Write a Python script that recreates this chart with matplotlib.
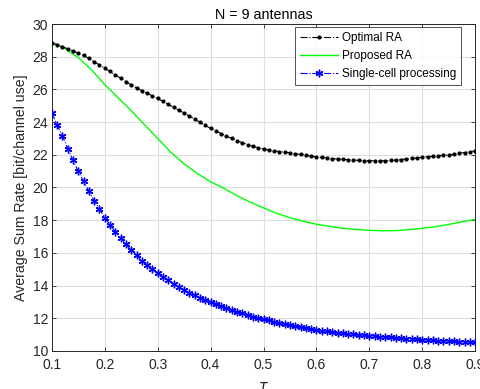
import numpy as np
import matplotlib
matplotlib.use("Agg")
import matplotlib.pyplot as plt

plt.rcParams['font.family'] = ['Liberation Sans', 'DejaVu Sans']

# tau grid for the marker series (step 0.01)
tau = np.round(np.arange(0.10, 0.9001, 0.01), 2)

optimal_ra = [
    28.85, 28.75, 28.62, 28.49, 28.36, 28.22, 28.08, 27.90, 27.70, 27.50,
    27.30, 27.10, 26.90, 26.69, 26.48, 26.28, 26.10, 25.93, 25.77, 25.61,
    25.45, 25.27, 25.09, 24.91, 24.73, 24.55, 24.37, 24.18, 23.99, 23.80,
    23.62, 23.46, 23.30, 23.14, 23.00, 22.86, 22.74, 22.62, 22.52, 22.43,
    22.35, 22.30, 22.25, 22.20, 22.16, 22.12, 22.07, 22.02, 21.97, 21.92,
    21.88, 21.84, 21.80, 21.77, 21.74, 21.72, 21.70, 21.68, 21.66, 21.65,
    21.64, 21.63, 21.63, 21.64, 21.66, 21.68, 21.71, 21.74, 21.78, 21.81,
    21.85, 21.88, 21.91, 21.94, 21.97, 22.00, 22.04, 22.09, 22.14, 22.19,
    22.25,
]

single_cell = [
    24.58, 23.82, 23.17, 22.38, 21.66, 20.99, 20.38, 19.77, 19.19, 18.68,
    18.15, 17.71, 17.30, 16.91, 16.52, 16.16, 15.84, 15.52, 15.25, 14.99,
    14.77, 14.54, 14.33, 14.11, 13.91, 13.73, 13.56, 13.40, 13.25, 13.11,
    12.98, 12.85, 12.73, 12.61, 12.50, 12.39, 12.29, 12.19, 12.10, 12.02,
    11.94, 11.86, 11.78, 11.71, 11.64, 11.57, 11.51, 11.45, 11.39, 11.33,
    11.28, 11.24, 11.20, 11.16, 11.12, 11.08, 11.05, 11.01, 10.98, 10.95,
    10.92, 10.89, 10.87, 10.84, 10.82, 10.79, 10.77, 10.75, 10.72, 10.70,
    10.68, 10.66, 10.65, 10.63, 10.62, 10.60, 10.59, 10.57, 10.56, 10.55,
    10.53,
]

# proposed scheme on a coarser grid (step 0.025)
tau_prop = np.round(np.arange(0.100, 0.9001, 0.025), 3)
proposed_ra = [
    28.85, 28.50, 27.95, 27.20, 26.30, 25.50, 24.70, 23.85, 23.00, 22.15,
    21.45, 20.85, 20.35, 19.95, 19.50, 19.10, 18.75, 18.42, 18.15, 17.93,
    17.75, 17.62, 17.50, 17.43, 17.38, 17.35, 17.36, 17.42, 17.50, 17.60,
    17.74, 17.90, 18.05,
]

x_ticks = [0.1, 0.2, 0.3, 0.4, 0.5, 0.6, 0.7, 0.8, 0.9]
y_ticks = [10, 12, 14, 16, 18, 20, 22, 24, 26, 28, 30]

axis_col = '#262626'
asterisk = (6, 2, 0)

fig = plt.figure(figsize=(4.8, 3.89), dpi=100)
ax = fig.add_axes([0.108, 0.098, 0.882, 0.84])

ax.plot(tau, optimal_ra, color='black', linestyle='-.', marker='.',
        markersize=4, linewidth=0.8, label='Optimal RA', zorder=3)
ax.plot(tau_prop, proposed_ra, color='#00ff00', linestyle='-',
        linewidth=1.0, label='Proposed RA', zorder=2)
ax.plot(tau, single_cell, color='blue', linestyle='-.', marker=asterisk,
        markersize=5.5, markeredgewidth=1.0, linewidth=0.8,
        label='Single-cell processing', zorder=3)

ax.set_xlim(0.1, 0.9)
ax.set_ylim(10, 30)
ax.set_xticks(x_ticks)
ax.set_xticklabels([f'{v:g}' for v in x_ticks])
ax.set_yticks(y_ticks)
ax.grid(True, color='#dedede', linewidth=0.8)
ax.set_axisbelow(True)
ax.tick_params(direction='in', top=True, right=True, labelsize=10,
               colors=axis_col, length=3, width=0.6)
ax.tick_params(axis='x', pad=5)
ax.tick_params(axis='y', pad=2.5)
for s in ax.spines.values():
    s.set_color(axis_col)
    s.set_linewidth(0.7)

ax.set_title('N = 9 antennas', fontsize=10.3, color='black', pad=4)
ax.set_ylabel('Average Sum Rate [bit/channel use]', fontsize=10.2,
              color=axis_col, labelpad=3)
ax.set_xlabel(r'$\tau$', fontsize=10.5, color=axis_col, labelpad=6)

leg = ax.legend(loc='upper right', bbox_to_anchor=(0.967, 0.991),
                fontsize=8.5, frameon=True, fancybox=False,
                edgecolor=axis_col, borderpad=0.42, handlelength=3.3,
                labelspacing=0.5, handletextpad=0.3, borderaxespad=0.0)
leg.get_frame().set_linewidth(0.7)

fig.savefig('out.png', dpi=100)
